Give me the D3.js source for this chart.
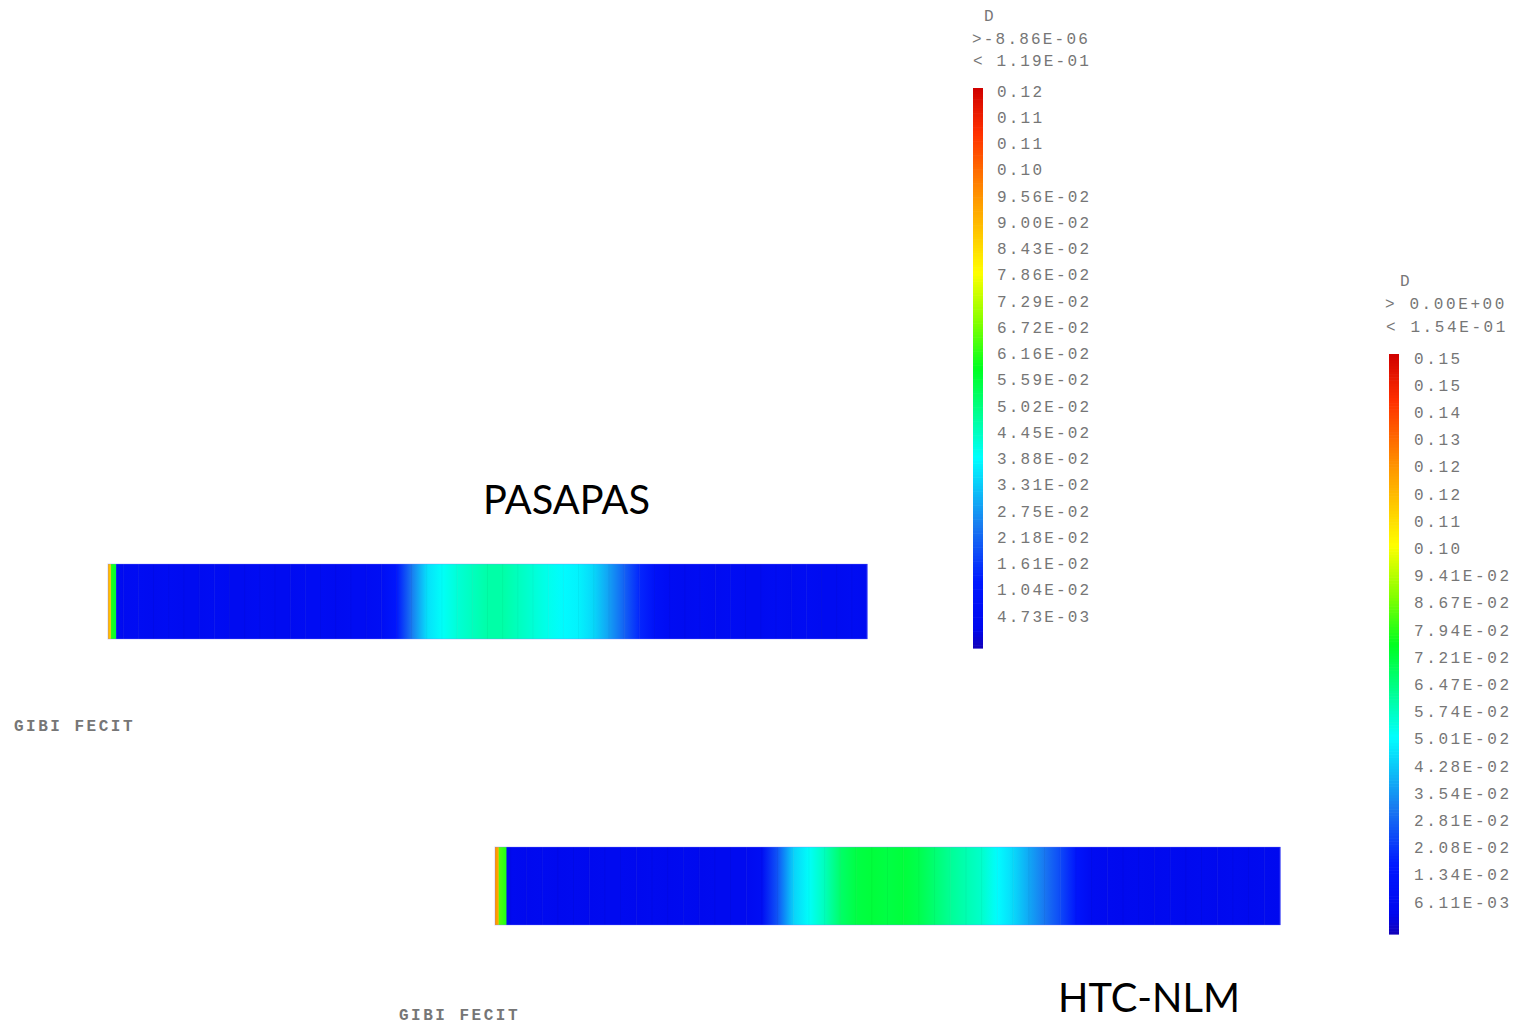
<!DOCTYPE html>
<html>
<head>
<meta charset="utf-8">
<script src="https://cdn.jsdelivr.net/npm/d3@7"></script>
<style>
  body { margin: 0; background: #fff; }
  svg { display: block; }
  .mono { font-family: "Liberation Mono", "DejaVu Sans Mono", monospace; fill: #767676; }
  .title { font-family: Lato, "Open Sans", sans-serif; fill: #000; }
</style>
</head>
<body>
<svg id="chart" width="1525" height="1024"></svg>
<script>
// damage field D along the beam, nodal values (position in mm along a 1000 mm beam)
const pasapasPos = [0, 3, 4, 10, 11, 20, 40, 60, 80, 100, 120, 140, 160, 180, 200, 220, 240, 260, 280, 300,
  320, 340, 360, 380, 400, 420, 440, 460, 480, 500, 520, 540, 560, 580, 600, 620, 640, 660, 680, 700,
  720, 740, 760, 780, 800, 820, 840, 860, 880, 900, 920, 940, 960, 980, 1000];
const pasapasD = [0.092, 0.088, 0.062, 0.058, 0.007, 0.006, 0.007, 0.006, 0.007, 0.006, 0.006, 0.007, 0.006, 0.006, 0.007, 0.006, 0.006, 0.007, 0.007, 0.006,
  0.007, 0.007, 0.008, 0.013, 0.026, 0.037, 0.041, 0.044, 0.046, 0.048, 0.048, 0.046, 0.044, 0.042, 0.040, 0.039, 0.036, 0.030, 0.023, 0.016,
  0.010, 0.007, 0.006, 0.007, 0.006, 0.007, 0.006, 0.006, 0.007, 0.006, 0.007, 0.006, 0.006, 0.007, 0.006];

const htcPos = [0, 4, 5, 14, 15, 20, 40, 60, 80, 100, 120, 140, 160, 180, 200, 220, 240, 260, 280, 300,
  320, 340, 360, 380, 400, 420, 440, 460, 480, 500, 520, 540, 560, 580, 600, 620, 640, 660, 680, 700,
  720, 740, 760, 780, 800, 820, 840, 860, 880, 900, 920, 940, 960, 980, 1000];
const htcD = [0.125, 0.120, 0.085, 0.080, 0.007, 0.007, 0.006, 0.007, 0.006, 0.007, 0.006, 0.007, 0.007, 0.006, 0.007, 0.006, 0.007, 0.006, 0.007, 0.007,
  0.007, 0.010, 0.028, 0.046, 0.053, 0.060, 0.069, 0.073, 0.074, 0.073, 0.074, 0.072, 0.068, 0.064, 0.061, 0.058, 0.052, 0.047, 0.040, 0.033,
  0.026, 0.016, 0.008, 0.007, 0.006, 0.007, 0.006, 0.007, 0.006, 0.007, 0.006, 0.007, 0.006, 0.007, 0.006];

// legend tick labels (top to bottom)
const pasapasTicks = ["0.12", "0.11", "0.11", "0.10", "9.56E-02", "9.00E-02", "8.43E-02", "7.86E-02", "7.29E-02", "6.72E-02",
  "6.16E-02", "5.59E-02", "5.02E-02", "4.45E-02", "3.88E-02", "3.31E-02", "2.75E-02", "2.18E-02", "1.61E-02", "1.04E-02", "4.73E-03"];
const htcTicks = ["0.15", "0.15", "0.14", "0.13", "0.12", "0.12", "0.11", "0.10", "9.41E-02", "8.67E-02",
  "7.94E-02", "7.21E-02", "6.47E-02", "5.74E-02", "5.01E-02", "4.28E-02", "3.54E-02", "2.81E-02", "2.08E-02", "1.34E-02", "6.11E-03"];
const pasapasHeader = ["D", ">-8.86E-06", "< 1.19E-01"];
const htcHeader = ["D", "> 0.00E+00", "< 1.54E-01"];
const pasapasMax = 0.119;
const htcMax = 0.154;

const svg = d3.select("#chart");
const defs = svg.append("defs");

// castem-like rainbow, by fraction of the max
const colour = d3.scaleLinear()
  .domain([0, 0.035, 0.12, 0.22, 0.34, 0.5, 0.58, 0.67, 0.8, 0.92, 1])
  .range(["#1200b8", "#0008ee", "#0018ff", "#1a7cf0", "#00ffff", "#00ff20", "#80ff00", "#ffff00", "#ff9a00", "#ff3000", "#d00000"])
  .clamp(true);

let gradId = 0;

function drawPanel(p) {
  const g = svg.append("g");
  const x = d3.scaleLinear().domain([0, 1000]).range([p.x0, p.x1]);
  const c = v => colour(v / p.max);

  // beam elements, each shaded from node to node
  const elems = d3.range(p.pos.length - 1);
  elems.forEach(i => {
    const id = "grad" + (gradId++);
    const lg = defs.append("linearGradient").attr("id", id);
    lg.append("stop").attr("offset", "0%").attr("stop-color", c(p.d[i]));
    lg.append("stop").attr("offset", "100%").attr("stop-color", c(p.d[i + 1]));
  });
  const first = gradId - elems.length;
  g.selectAll("rect.el").data(elems).join("rect")
    .attr("class", "el")
    .attr("x", i => x(p.pos[i]))
    .attr("y", p.y0)
    .attr("width", i => x(p.pos[i + 1]) - x(p.pos[i]) + 0.5)
    .attr("height", p.y1 - p.y0)
    .attr("fill", i => "url(#grad" + (first + i) + ")");
  // faint element edges
  g.selectAll("line.edge").data(p.pos.slice(5, -1)).join("line")
    .attr("class", "edge")
    .attr("x1", d => x(d)).attr("x2", d => x(d))
    .attr("y1", p.y0).attr("y2", p.y1)
    .attr("stroke", "#000").attr("stroke-opacity", 0.04);
  g.append("rect")
    .attr("x", p.x0).attr("y", p.y0)
    .attr("width", p.x1 - p.x0).attr("height", p.y1 - p.y0)
    .attr("fill", "none").attr("stroke", "#8080ff").attr("stroke-opacity", 0.35);

  // colour bar
  const yb = d3.scaleLinear().domain([0, 1]).range([p.barB, p.barT]);
  const steps = d3.range(0, 1, 0.005);
  g.selectAll("rect.cb").data(steps).join("rect")
    .attr("class", "cb")
    .attr("x", p.barX).attr("width", 10)
    .attr("y", t => yb(t + 0.005))
    .attr("height", t => yb(t) - yb(t + 0.005) + 0.6)
    .attr("fill", t => colour(t + 0.0025));

  // tick labels
  const yl = d3.scaleLinear().domain([0, p.ticks.length - 1]).range([p.labT, p.labB]);
  g.selectAll("text.tk").data(p.ticks).join("text")
    .attr("class", "mono")
    .attr("x", p.labX)
    .attr("y", (d, i) => yl(i))
    .attr("dy", "0.35em")
    .attr("font-size", 16)
    .attr("letter-spacing", p.ls)
    .text(d => d);

  // header
  g.selectAll("text.hd").data(p.header).join("text")
    .attr("class", "mono")
    .attr("x", (d, i) => p.headX[i])
    .attr("y", (d, i) => p.headY[i])
    .attr("dy", "0.35em")
    .attr("font-size", 16)
    .attr("letter-spacing", p.ls)
    .text(d => d);

  g.append("text").attr("class", "mono")
    .attr("x", p.gibiX).attr("y", p.gibiY).attr("dy", "0.35em")
    .attr("font-size", 16).attr("letter-spacing", 2.5).attr("font-weight", "bold")
    .text("GIBI FECIT");

  g.append("text").attr("class", "title")
    .attr("x", p.titleX).attr("y", p.titleY)
    .attr("font-size", 40)
    .attr("textLength", p.titleW).attr("lengthAdjust", "spacingAndGlyphs")
    .text(p.title);
}

drawPanel({
  pos: pasapasPos, d: pasapasD, max: pasapasMax,
  x0: 108, x1: 867, y0: 564, y1: 639,
  barX: 973, barT: 88, barB: 648,
  ticks: pasapasTicks, labX: 997, labT: 91, labB: 616, ls: 2.2,
  header: pasapasHeader, headX: [984, 972, 973], headY: [15, 38, 60],
  gibiX: 14, gibiY: 725,
  title: "PASAPAS", titleX: 483, titleY: 514, titleW: 167
});

drawPanel({
  pos: htcPos, d: htcD, max: htcMax,
  x0: 495, x1: 1280, y0: 847, y1: 925,
  barX: 1389, barT: 354, barB: 934,
  ticks: htcTicks, labX: 1414, labT: 358, labB: 902, ls: 2.6,
  header: htcHeader, headX: [1400, 1385, 1386], headY: [280, 303, 326],
  gibiX: 399, gibiY: 1014,
  title: "HTC-NLM", titleX: 1058, titleY: 1012, titleW: 182
});
</script>
</body>
</html>
